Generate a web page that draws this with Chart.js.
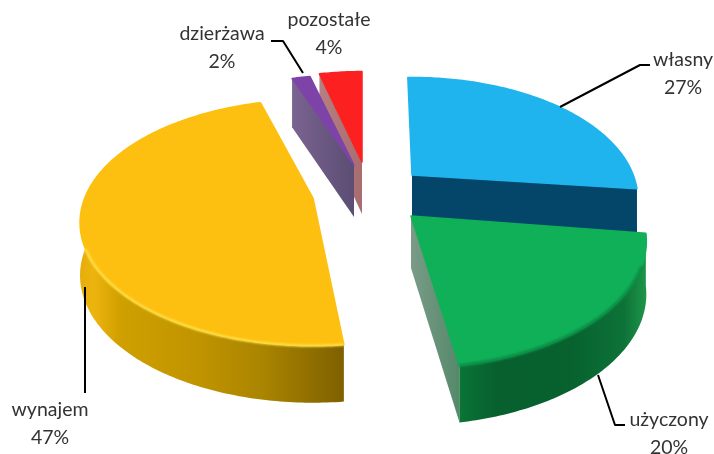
<!DOCTYPE html>
<html>
<head>
<meta charset="utf-8">
<style>
  html, body { margin: 0; background: #fff; }
  canvas { display: block; }
</style>
<script src="https://cdn.jsdelivr.net/npm/chart.js@4"></script>
</head>
<body>
<canvas id="canvas" width="714" height="454"></canvas>
<script>
// shares, the printed labels are these rounded
var categories = ['własny', 'użyczony', 'wynajem', 'dzierżawa', 'pozostałe'];
var shares = [27.2, 20.1, 47.3, 1.5, 3.9];

var topColors = ['#1fb4ee', '#10b058', '#fdc010', '#7e43a8', '#fd2020'];

// how far each slice is pulled out of the pie, relative to the arc centre
var explodeX = [55, 54, -44, -3, 5];
var explodeY = [-52, -11, -29, -62, -65];

// small per slice corrections, the original is not a perfectly regular pie
var stretchX = [0.95, 0.99, 0.98, 1, 0.9];
var stretchY = [0.96, 1, 0.97, 0.89, 0.89];
var turnDeg = [-1.3, 0, 3.5, 1, 0];

// look of the side walls
var cutSide = ['end', 'end', null, 'start', 'start'];
var cutColors = [
    ['#03466a', '#03466a'],
    ['#55896a', '#7a9b88'],
    null,
    ['#7a6490', '#5b4d74'],
    ['#b58082', '#a86c70']
];
var rimStops = [
    null,
    [[0, '#0a7436'], [0.2, '#07602e'], [0.6, '#07622e'], [0.88, '#0d7238'], [1, '#1f9648']],
    [[0, '#e6ac0a'], [0.05, '#eeb40e'], [0.15, '#d0a000'], [0.45, '#c09400'], [0.7, '#a98400'], [0.9, '#8c6c00'], [1, '#7f6000']],
    null,
    null
];
var rimLight = [null, '#0c8a45', '#ffe85a', null, null];
var rimLightWidth = [0, 3, 2, 0, 0];
var drawOrder = [0, 4, 3, 2, 1];

// label text anchors and leader lines, relative to the arc centre
var labelX = [326, 312, -307, -135, -28];
var labelY = [-167, 193, 183, -193, -207];
var leaders = [
    [[203, -120], [283, -162], [293, -162]],
    [[241, 148], [258, 198], [268, 198]],
    [[-272, 60], [-272, 166]],
    [[-86, -186], [-74, -186], [-54, -154]],
    null
];

var tiltX = 1.026, tiltY = 0.537, perspective = 0.2, wallRatio = 0.229;

function project(arc, i, rho, angle, down) {
    var t = angle + Math.PI / 2 + turnDeg[i] * Math.PI / 180;
    var u = rho * Math.sin(t), v = -rho * Math.cos(t);
    var s = 1 / (1 - perspective * v);
    var h = down ? arc.outerRadius * wallRatio * (1 + 0.38 * (s - 1)) : 0;
    return {
        x: arc.x + explodeX[i] + arc.outerRadius * tiltX * stretchX[i] * u * s,
        y: arc.y + explodeY[i] + arc.outerRadius * tiltY * stretchY[i] * v * s + h
    };
}

function rimPoints(arc, i, down) {
    var pts = [];
    var steps = Math.max(4, Math.ceil((arc.endAngle - arc.startAngle) / 0.015));
    for (var k = 0; k <= steps; k++) {
        var a = arc.startAngle + (arc.endAngle - arc.startAngle) * k / steps;
        pts.push(project(arc, i, 1, a, down));
    }
    return pts;
}

function trace(ctx, pts) {
    ctx.beginPath();
    pts.forEach(function(p, k) {
        if (k === 0) ctx.moveTo(p.x, p.y);
        else ctx.lineTo(p.x, p.y);
    });
    ctx.closePath();
}

function drawSlice(ctx, arc, i) {
    var top = rimPoints(arc, i, false);
    var bottom = rimPoints(arc, i, true);
    var apex = project(arc, i, 0, arc.startAngle, false);
    var apexLow = project(arc, i, 0, arc.startAngle, true);

    // flat cut wall
    if (cutSide[i]) {
        var angle = cutSide[i] === 'end' ? arc.endAngle : arc.startAngle;
        var outer = project(arc, i, 1, angle, false);
        var outerLow = project(arc, i, 1, angle, true);
        var g = ctx.createLinearGradient(apex.x, 0, outer.x, 0);
        g.addColorStop(0, cutColors[i][1]);
        g.addColorStop(1, cutColors[i][0]);
        ctx.fillStyle = g;
        trace(ctx, [apex, outer, outerLow, apexLow]);
        ctx.fill();
    }

    // round outer wall
    if (rimStops[i]) {
        var xs = top.concat(bottom).map(function(p) { return p.x; });
        var minX = Math.min.apply(null, xs), maxX = Math.max.apply(null, xs);
        var rg = ctx.createLinearGradient(minX, 0, maxX, 0);
        rimStops[i].forEach(function(st) { rg.addColorStop(st[0], st[1]); });
        ctx.fillStyle = rg;
        trace(ctx, top.concat(bottom.slice().reverse()));
        ctx.fill();
    }

    // top face
    ctx.fillStyle = topColors[i];
    ctx.strokeStyle = topColors[i];
    ctx.lineWidth = 1.5;
    ctx.lineJoin = 'round';
    trace(ctx, [apex].concat(top));
    ctx.fill();
    ctx.stroke();

    // soft bevel on the front edge
    if (rimLight[i]) {
        var front = top.filter(function(p) { return p.y > apex.y + 50; });
        ctx.save();
        ctx.filter = 'blur(1px)';
        ctx.strokeStyle = rimLight[i];
        ctx.lineWidth = rimLightWidth[i];
        ctx.beginPath();
        front.forEach(function(p, k) {
            if (k === 0) ctx.moveTo(p.x, p.y);
            else ctx.lineTo(p.x, p.y);
        });
        ctx.stroke();
        ctx.restore();
    }
}

var pie3d = {
    id: 'pie3d',
    beforeDatasetsDraw: function(chart) {
        var arcs = chart.getDatasetMeta(0).data;
        drawOrder.forEach(function(i) {
            drawSlice(chart.ctx, arcs[i], i);
        });
        return false;
    },
    afterDraw: function(chart) {
        var ctx = chart.ctx;
        var arcs = chart.getDatasetMeta(0).data;
        var cx = arcs[0].x, cy = arcs[0].y;
        ctx.save();
        ctx.strokeStyle = '#000';
        ctx.lineWidth = 2;
        leaders.forEach(function(line) {
            if (!line) return;
            ctx.beginPath();
            line.forEach(function(p, k) {
                if (k === 0) ctx.moveTo(cx + p[0], cy + p[1]);
                else ctx.lineTo(cx + p[0], cy + p[1]);
            });
            ctx.stroke();
        });
        ctx.fillStyle = '#333';
        ctx.font = '19.5px Lato';
        ctx.textAlign = 'center';
        ctx.textBaseline = 'middle';
        categories.forEach(function(name, i) {
            ctx.fillText(name, cx + labelX[i], cy + labelY[i]);
            ctx.fillText(Math.round(shares[i]) + '%', cx + labelX[i], cy + labelY[i] + 28);
        });
        ctx.restore();
    }
};

var ctx = document.getElementById('canvas').getContext('2d');
var myChart = new Chart(ctx, {
    type: 'pie',
    data: {
        labels: categories,
        datasets: [{
            data: shares,
            backgroundColor: topColors,
            borderWidth: 0
        }]
    },
    options: {
        responsive: false,
        animation: false,
        layout: { padding: 0 },
        plugins: {
            legend: { display: false },
            tooltip: { enabled: false }
        }
    },
    plugins: [pie3d]
});
</script>
</body>
</html>
